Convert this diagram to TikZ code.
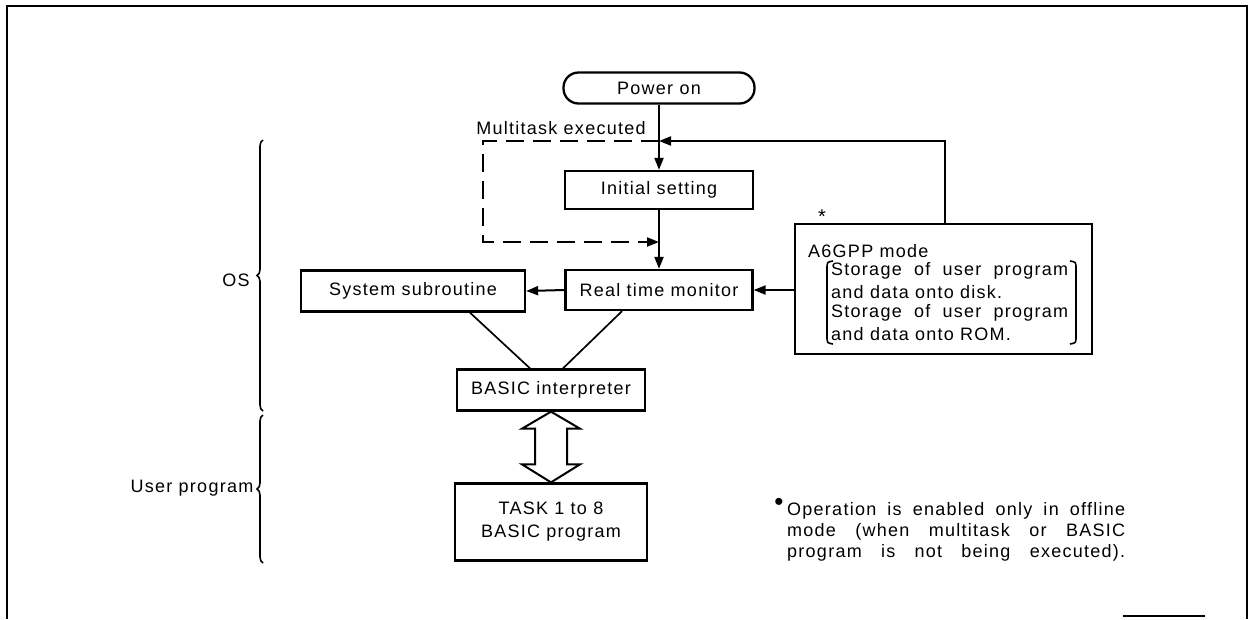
\documentclass[tikz,border=0pt]{standalone}
\usepackage{fontspec}
\setmainfont{Liberation Sans}[LetterSpace=7]
\usetikzlibrary{arrows.meta,decorations.pathreplacing,calc}

\begin{document}
\begin{tikzpicture}[x=1pt,y=-1pt,
  every node/.style={font=\fontsize{18}{21}\selectfont, inner sep=0pt},
  box/.style={draw, line width=2.3pt},
  pill/.style={draw, line width=2.3pt, rounded corners=15pt},
  conn/.style={line width=2pt},
  arr/.style={conn, -{Triangle[length=12pt,width=9pt]}},
  dashline/.style={line width=2pt, dash pattern=on 18pt off 9pt, -{Triangle[length=12pt,width=9pt]}},
  hollow/.style={line width=2pt, line join=miter},
  bracemark/.style={line width=1.6pt, decorate, decoration={brace, amplitude=6pt}},
  bracket/.style={line width=1.6pt},
  frame/.style={line width=2.4pt},
  lbl/.style={anchor=west}
]
\useasboundingbox (0,0) rectangle (1252,619);

% outer frame
\draw[frame] (7,619) -- (7,6) -- (1247,6) -- (1247,619);
\draw[frame] (1123,616) -- (1205,616);

% flow boxes
\node[pill, minimum width=191pt, minimum height=31pt] (pwr) at (659,88) {Power on};
\node[box, minimum width=188pt, minimum height=38pt] (init) at (659,190) {Initial setting};
\node[box, minimum width=187pt, minimum height=40pt] (rtm) at (659,290) {Real time monitor};
\node[box, minimum width=224pt, minimum height=41pt] (sub) at (413,291) {System subroutine};
\node[box, minimum width=188pt, minimum height=41pt] (bi) at (551,390) {BASIC interpreter};
\node[box, minimum width=192pt, minimum height=77pt, align=center,
      font=\fontsize{18}{23}\selectfont] (task) at (551,522) {TASK 1 to 8\\BASIC program};
\node[box, minimum width=297pt, minimum height=130pt] (a6) at (943.5,289) {};

% A6GPP mode contents
\node[font=\fontsize{20}{20}\selectfont] (star) at (822,217) {*};
\node[lbl] (a6t) at (808,251) {A6GPP mode};
\node[lbl] (a6l1) at (831,271) {\makebox[237pt][s]{Storage of user program}};
\node[lbl] (a6l2) at (831,292) {and data onto disk.};
\node[lbl] (a6l3) at (831,313) {\makebox[237pt][s]{Storage of user program}};
\node[lbl] (a6l4) at (831,334) {and data onto ROM.};
\draw[bracket] (833,261) .. controls (827,262) .. (827,269) -- (827,336) .. controls (827,343) .. (833,344);
\draw[bracket] (1070,261) .. controls (1076,262) .. (1076,269) -- (1076,336) .. controls (1076,343) .. (1070,344);

% labels
\node (mt) at (561,128) {Multitask executed};
\node (os) at (236,280) {OS};
\node (up) at (192,488) {User program};

% braces
\draw[bracemark] (263,411) -- (263,140);
\draw[bracemark] (263,563) -- (263,415);

% main flow
\coordinate (j) at (659,141);
\coordinate (fb) at (945,141);
\coordinate (dtl) at (483,141);
\coordinate (dbl) at (483,242);
\coordinate (j2) at (659,242);

\draw[arr] (pwr.south) -- (init.north);
\draw[arr] (init.south) -- (rtm.north);
\draw[arr] (a6.north -| fb) -- (fb) -- (j);
\draw[dashline] (j) -- (dtl) -- (dbl) -- (j2);
\draw[arr] (rtm.west) -- (sub.east);
\draw[arr] (a6.west |- rtm.east) -- (rtm.east);

\draw[conn, line width=1.7pt] ($(sub.south)+(57,0)$) -- ($(bi.north)+(-21,0)$);
\draw[conn, line width=1.7pt] ($(rtm.south)+(-37,0)$) -- ($(bi.north)+(12,0)$);

% two-way hollow arrow
\draw[hollow] (bi.south) -- ++(29,17) -- ++(-13,0) -- ($(task.north)+(16,-18)$)
  -- ++(13,0) -- (task.north) -- ++(-29,-18) -- ++(13,0)
  -- ($(bi.south)+(-16,17)$) -- ++(-13,0) -- cycle;

% footnote
\node[font=\fontsize{26}{26}\selectfont] (bul) at (779,504) {•};
\node[lbl] (fn1) at (787,511) {\makebox[338pt][s]{Operation is enabled only in offline}};
\node[lbl] (fn2) at (787,532) {\makebox[338pt][s]{mode (when multitask or BASIC}};
\node[lbl] (fn3) at (787,553) {\makebox[338pt][s]{program is not being executed).}};
\end{tikzpicture}
\end{document}
